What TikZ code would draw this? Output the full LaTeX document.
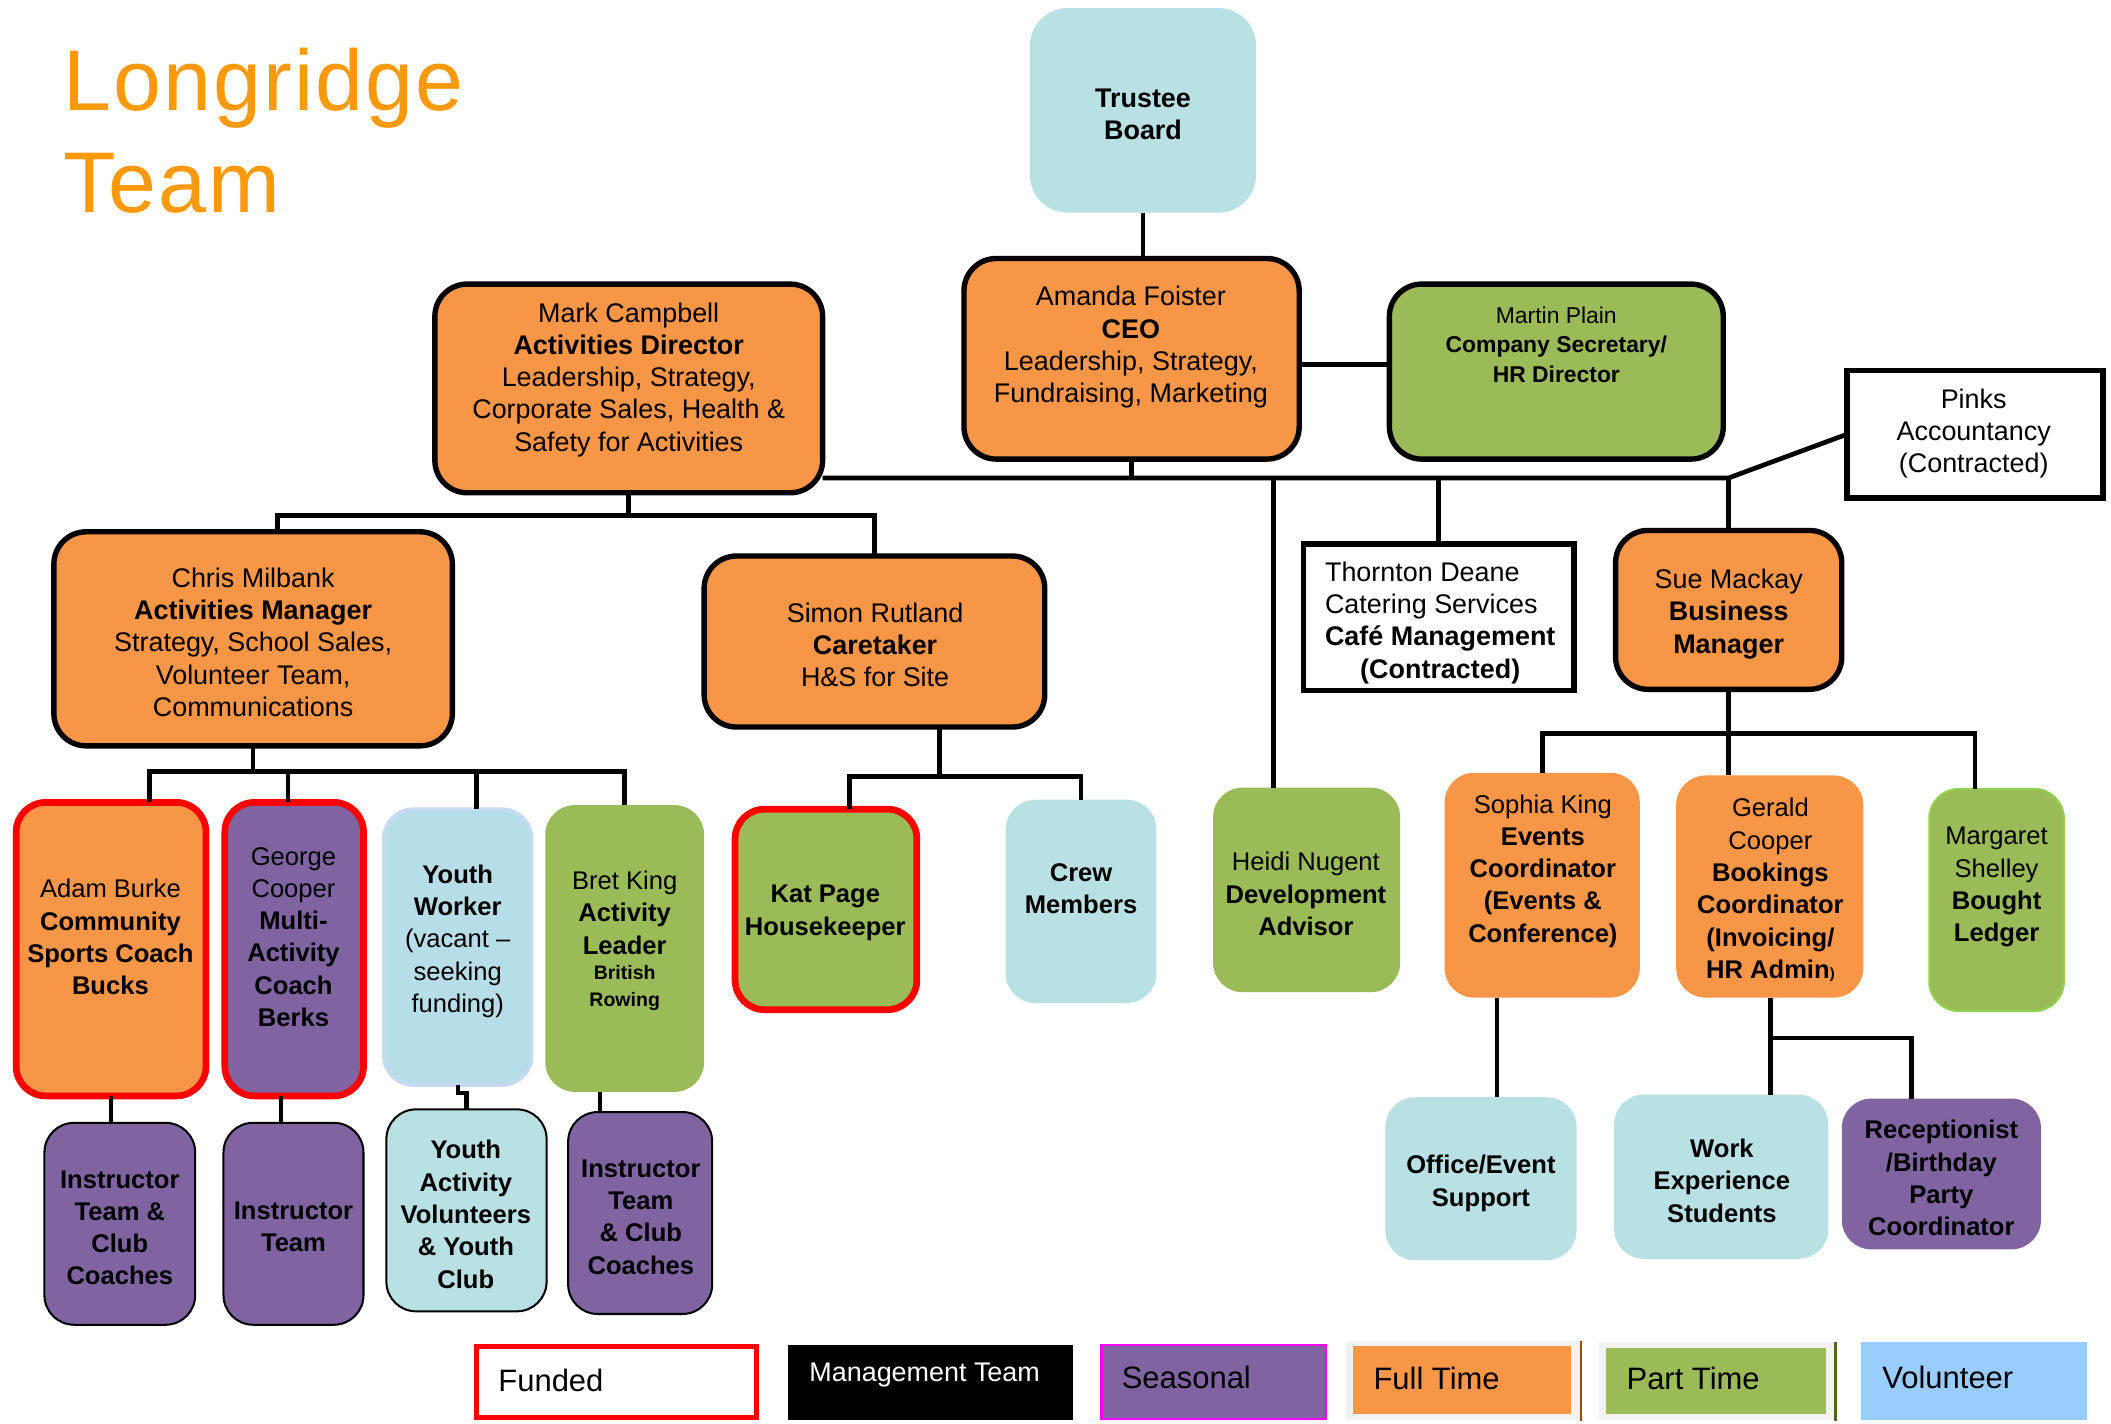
\documentclass[tikz,border=0pt]{standalone}
\usepackage{fontspec}
\setmainfont{Liberation Sans}
\newfontfamily\titlefont[LetterSpace=2.5]{Liberation Sans}
\definecolor{ftc}{HTML}{F79646}
\definecolor{ptc}{HTML}{9BBB59}
\definecolor{sec}{HTML}{8064A2}
\definecolor{voc}{HTML}{B9E0E3}
\definecolor{vwc}{HTML}{B7DEE8}
\definecolor{vwb}{HTML}{C6D9F1}
\definecolor{lgv}{HTML}{99CCFF}
\definecolor{ttl}{RGB}{250,154,10}
\definecolor{limec}{HTML}{92D050}
\definecolor{lgray}{HTML}{F2F2F2}
\definecolor{brownc}{HTML}{984807}
\definecolor{dgreen}{HTML}{4F6228}
\newcommand{\orgbox}[6]{\node[#2, minimum width={#5pt-#3pt}, minimum height={#6pt-#4pt}] (#1) at ({(#3+#5)/2},{(#4+#6)/2}) {};}
\begin{document}
\begin{tikzpicture}[x=1pt,y=-1pt,
  base/.style={rounded corners=22pt, inner sep=0pt, outer sep=0pt},
  mg/.style={base, draw=black, line width=4pt, rounded corners=24pt},
  fund/.style={base, draw=red, line width=5pt},
  thinb/.style={base, draw=black, line width=1.5pt},
  sq/.style={draw=black, line width=4pt, inner sep=0pt, outer sep=0pt},
  conn/.style={line width=3.5pt},
  tx/.style={align=center, inner sep=0pt, yshift=-2pt, font=\fontsize{20}{24}\selectfont},
  txs/.style={align=center, inner sep=0pt, yshift=-2pt, font=\fontsize{19}{24}\selectfont},
  lg/.style={anchor=west, inner sep=0pt, font=\fontsize{23}{27}\selectfont}
]
\useasboundingbox (0,0) rectangle (1568,1057);
\fill[white] (0,0) rectangle (1568,1057);

% title
\node[anchor=base west, inner sep=0pt, text=ttl, font=\titlefont\fontsize{64}{76}\selectfont] (title1) at (47,82) {Longridge};
\node[anchor=base west, inner sep=0pt, text=ttl, font=\titlefont\fontsize{64}{76}\selectfont] (title2) at (47,158) {Team};

% boxes
\orgbox{trustee}{base, fill=voc, rounded corners=28pt}{765}{6}{933}{158}
\orgbox{ceo}{mg, fill=ftc}{716}{192}{965}{341}
\orgbox{martin}{mg, fill=ptc}{1032}{211}{1280}{341}
\orgbox{mark}{mg, fill=ftc}{323}{211}{611}{366}
\orgbox{pinks}{sq, fill=white}{1372}{275}{1562}{370}
\orgbox{chris}{mg, fill=ftc}{40}{395}{336}{554}
\orgbox{simon}{mg, fill=ftc}{523}{413}{776}{540}
\orgbox{thornton}{sq, fill=white}{968}{404}{1169}{513}
\orgbox{sue}{mg, fill=ftc}{1200}{394}{1368}{512}
\orgbox{heidi}{base, fill=ptc}{901}{585}{1040}{737}
\orgbox{sophia}{base, fill=ftc}{1073}{574}{1218}{741}
\orgbox{gerald}{base, fill=ftc}{1245}{576}{1384}{741}
\orgbox{margaret}{base, fill=ptc, draw=limec, line width=1.5pt}{1433}{586}{1533}{751}
\orgbox{adam}{fund, fill=ftc}{12}{596}{153}{814}
\orgbox{george}{fund, fill=sec}{167}{596}{270}{814}
\orgbox{yworker}{base, fill=vwc, draw=vwb, line width=2.5pt}{285}{601}{395}{806}
\orgbox{bret}{base, fill=ptc}{405}{598}{523}{811}
\orgbox{kat}{fund, fill=ptc}{546}{601}{681}{750}
\orgbox{crew}{base, fill=voc}{747}{594}{859}{745}
\orgbox{instA}{thinb, fill=sec}{33}{834}{145}{984}
\orgbox{instB}{thinb, fill=sec}{166}{834}{270}{984}
\orgbox{yav}{thinb, fill=voc}{287}{824}{406}{974}
\orgbox{instC}{thinb, fill=sec}{422}{826}{529}{976}
\orgbox{office}{base, fill=voc}{1029}{815}{1171}{936}
\orgbox{work}{base, fill=voc}{1199}{813}{1358}{935}
\orgbox{recep}{base, fill=sec}{1368}{816}{1516}{928}

% texts
\node[tx, font=\bfseries\fontsize{20}{24}\selectfont] (trustee-t) at (849,83) {Trustee\\Board};
\node[tx] (ceo-t) at (840,256) {Amanda Foister\\\textbf{CEO}\\Leadership, Strategy,\\Fundraising, Marketing};
\node[tx, font=\fontsize{17}{22}\selectfont] (martin-t) at (1156,254) {Martin Plain\\\textbf{Company Secretary/}\\\textbf{HR Director}};
\node[tx] (mark-t) at (467,280) {Mark Campbell\\\textbf{Activities Director}\\Leadership, Strategy,\\Corporate Sales, Health \&\\Safety for Activities};
\node[tx] (pinks-t) at (1466,320) {Pinks\\Accountancy\\(Contracted)};
\node[tx] (chris-t) at (188,475) {Chris Milbank\\\textbf{Activities Manager}\\Strategy, School Sales,\\Volunteer Team,\\Communications};
\node[tx] (simon-t) at (650,477) {Simon Rutland\\\textbf{Caretaker}\\H\&S for Site};
\node[anchor=west, inner sep=0pt, yshift=-2pt, font=\fontsize{20}{24}\selectfont] (thornton-t) at (984,461) {\begin{tabular}{@{}l@{}}Thornton Deane\\Catering Services\\\textbf{Café Management}\\\multicolumn{1}{@{}c@{}}{\textbf{(Contracted)}}\end{tabular}};
\node[tx] (sue-t) at (1284,454) {Sue Mackay\\\textbf{Business}\\\textbf{Manager}};
\node[txs] (heidi-t) at (970,662) {Heidi Nugent\\\textbf{Development}\\\textbf{Advisor}};
\node[txs] (sophia-t) at (1146,645) {Sophia King\\\textbf{Events}\\\textbf{Coordinator}\\\textbf{(Events \&}\\\textbf{Conference)}};
\node[txs] (gerald-t) at (1315,659) {Gerald\\Cooper\\\textbf{Bookings}\\\textbf{Coordinator}\\\textbf{(Invoicing/}\\\textbf{HR Admin{\fontsize{11}{12}\selectfont)}}};
\node[txs] (margaret-t) at (1483,657) {Margaret\\Shelley\\\textbf{Bought}\\\textbf{Ledger}};
\node[txs] (adam-t) at (82,694) {Adam Burke\\\textbf{Community}\\\textbf{Sports Coach}\\\textbf{Bucks}};
\node[txs] (george-t) at (218,694) {George\\Cooper\\\textbf{Multi-}\\\textbf{Activity}\\\textbf{Coach}\\\textbf{Berks}};
\node[txs] (yworker-t) at (340,697) {\textbf{Youth}\\\textbf{Worker}\\(vacant –\\seeking\\funding)};
\node[txs] (bret-t) at (464,676) {Bret King\\\textbf{Activity}\\\textbf{Leader}};
\node[txs, font=\bfseries\fontsize{14.5}{20}\selectfont] (bret-t2) at (464,732) {British\\Rowing};
\node[txs, font=\bfseries\fontsize{19}{24}\selectfont] (kat-t) at (613,676) {Kat Page\\Housekeeper};
\node[txs, font=\bfseries\fontsize{19}{24}\selectfont] (crew-t) at (803,658) {Crew\\Members};
\node[txs, font=\bfseries\fontsize{19}{24}\selectfont] (instA-t) at (89,910) {Instructor\\Team \&\\Club\\Coaches};
\node[txs, font=\bfseries\fontsize{19}{24}\selectfont] (instB-t) at (218,909) {Instructor\\Team};
\node[txs, font=\bfseries\fontsize{19}{24}\selectfont] (yav-t) at (346,900) {Youth\\Activity\\Volunteers\\\& Youth\\Club};
\node[txs, font=\bfseries\fontsize{19}{24}\selectfont] (instC-t) at (476,902) {Instructor\\Team\\\& Club\\Coaches};
\node[txs, font=\bfseries\fontsize{19}{24}\selectfont] (office-t) at (1100,877) {Office/Event\\Support};
\node[txs, font=\bfseries\fontsize{19}{24}\selectfont] (work-t) at (1279,875) {Work\\Experience\\Students};
\node[txs, font=\bfseries\fontsize{19}{24}\selectfont] (recep-t) at (1442,873) {Receptionist\\/Birthday\\Party\\Coordinator};

% connectors
\coordinate (bus) at (0,355);
\coordinate (hx) at (946,0);
\draw[conn] (trustee.south) -- (trustee.south |- ceo.north);
\draw[conn] (ceo.east |- 0,271) -- (martin.west |- 0,271);
\draw[conn] (ceo.south) -- (ceo.south |- bus);
\draw[conn] (mark.east |- bus) -- (sue.north |- bus) -- (pinks.west);
\draw[conn] (hx |- bus) -- (hx |- heidi.north);
\draw[conn] (thornton.north |- bus) -- (thornton.north);
\draw[conn] (sue.north |- bus) -- (sue.north);

\coordinate (mbus) at (0,383);
\coordinate (cx) at (206,0);
\draw[conn] (mark.south) -- (mark.south |- mbus);
\draw[conn] (cx |- chris.north) -- (cx |- mbus) -- (simon.north |- mbus) -- (simon.north);

\coordinate (cbus) at (0,573);
\coordinate (ax) at (111,0);
\coordinate (gx) at (214,0);
\coordinate (yx) at (354,0);
\draw[conn] (chris.south) -- (chris.south |- cbus);
\draw[conn] (ax |- adam.north) -- (ax |- cbus) -- (bret.north |- cbus) -- (bret.north);
\draw[conn] (gx |- cbus) -- (gx |- george.north);
\draw[conn] (yx |- cbus) -- (yx |- yworker.north);

\coordinate (sx) at (698,0);
\coordinate (sbus) at (0,577);
\coordinate (kx) at (631,0);
\draw[conn] (sx |- simon.south) -- (sx |- sbus);
\draw[conn] (kx |- kat.north) -- (kx |- sbus) -- (crew.north |- sbus) -- (crew.north);

\coordinate (subus) at (0,545);
\coordinate (mx) at (1467,0);
\draw[conn] (sue.south) -- (sue.south |- subus);
\draw[conn] (sophia.north) -- (sophia.north |- subus) -- (mx |- subus) -- (mx |- margaret.north);
\draw[conn] (sue.south |- subus) -- (sue.south |- gerald.north);

\coordinate (g2x) at (209,0);
\coordinate (bx) at (446,0);
\coordinate (ox) at (1112,0);
\coordinate (wx) at (1315,0);
\coordinate (rx) at (1420,0);
\coordinate (gbus) at (0,771);
\draw[conn, line width=3pt] (adam.south) -- (adam.south |- instA.north);
\draw[conn, line width=3pt] (g2x |- george.south) -- (g2x |- instB.north);
\draw[conn, line width=3pt] (yworker.south) -- ++(0,6) -| (yav.north);
\draw[conn, line width=3pt] (bx |- bret.south) -- (bx |- instC.north);
\draw[conn] (ox |- sophia.south) -- (ox |- office.north);
\draw[conn] (wx |- gerald.south) -- (wx |- work.north);
\draw[conn] (wx |- gbus) -- (rx |- gbus) -- (rx |- recep.north);

% legend
\node[draw=red, line width=4pt, fill=white, minimum width=208pt, minimum height=53pt, inner sep=0pt] (lgfund) at (458,1026.5) {};
\node[lg] (lgfund-t) at (370,1025) {Funded};
\node[fill=black, minimum width=212pt, minimum height=56pt, inner sep=0pt] (lgman) at (691,1027) {};
\node[lg, text=white, font=\fontsize{20}{24}\selectfont] (lgman-t) at (601,1021) {Management Team};
\node[fill=sec, draw={rgb,255:red,255;green,0;blue,255}, line width=2pt, minimum width=167pt, minimum height=55pt, inner sep=0pt] (lgsea) at (901.5,1026.5) {};
\node[lg] (lgsea-t) at (833,1023) {Seasonal};
\node[fill=lgray, minimum width=174pt, minimum height=59pt, inner sep=0pt] (lgfto) at (1087,1025.5) {};
\node[fill=ftc, minimum width=162pt, minimum height=50pt, inner sep=0pt] (lgft) at (1086,1025) {};
\draw[brownc, line width=2pt] (lgfto.north east) -- (lgfto.south east);
\node[lg] (lgft-t) at (1020,1024) {Full Time};
\node[fill=lgray, minimum width=176pt, minimum height=58pt, inner sep=0pt] (lgpto) at (1276,1026) {};
\node[fill=ptc, minimum width=163pt, minimum height=49pt, inner sep=0pt] (lgpt) at (1274.5,1025.5) {};
\draw[dgreen, line width=2pt] ([xshift=-1pt]lgpto.north east) -- ([xshift=-1pt]lgpto.south east);
\node[lg] (lgpt-t) at (1208,1024) {Part Time};
\node[fill=lgv, minimum width=168pt, minimum height=58pt, inner sep=0pt] (lgvol) at (1466,1026) {};
\node[lg] (lgvol-t) at (1398,1023) {Volunteer};
\end{tikzpicture}
\end{document}
